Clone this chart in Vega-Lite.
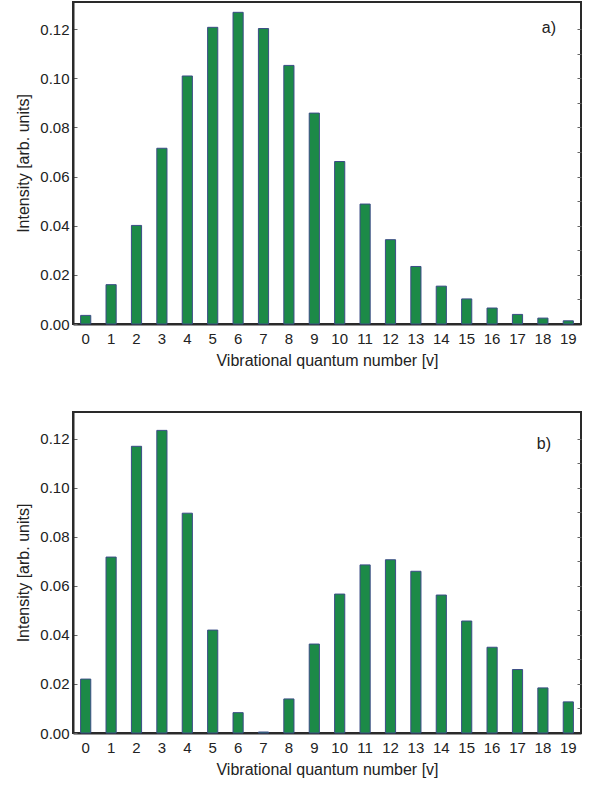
{
  "$schema": "https://vega.github.io/schema/vega-lite/v6.json",
  "padding": {"left": 14, "top": 1, "right": 2, "bottom": 0},
  "background": "white",
  "spacing": 42,
  "datasets": {
    "a": [
      {"v": "0", "intensity": 0.0035}, {"v": "1", "intensity": 0.0160}, {"v": "2", "intensity": 0.0401},
      {"v": "3", "intensity": 0.0715}, {"v": "4", "intensity": 0.1009}, {"v": "5", "intensity": 0.1207},
      {"v": "6", "intensity": 0.1268}, {"v": "7", "intensity": 0.1202}, {"v": "8", "intensity": 0.1052},
      {"v": "9", "intensity": 0.0858}, {"v": "10", "intensity": 0.0661}, {"v": "11", "intensity": 0.0488},
      {"v": "12", "intensity": 0.0343}, {"v": "13", "intensity": 0.0234}, {"v": "14", "intensity": 0.0154},
      {"v": "15", "intensity": 0.0102}, {"v": "16", "intensity": 0.0065}, {"v": "17", "intensity": 0.0039},
      {"v": "18", "intensity": 0.0024}, {"v": "19", "intensity": 0.0013}
    ],
    "b": [
      {"v": "0", "intensity": 0.0220}, {"v": "1", "intensity": 0.0718}, {"v": "2", "intensity": 0.1170},
      {"v": "3", "intensity": 0.1235}, {"v": "4", "intensity": 0.0897}, {"v": "5", "intensity": 0.0420},
      {"v": "6", "intensity": 0.0083}, {"v": "7", "intensity": 0.0004}, {"v": "8", "intensity": 0.0139},
      {"v": "9", "intensity": 0.0363}, {"v": "10", "intensity": 0.0567}, {"v": "11", "intensity": 0.0686},
      {"v": "12", "intensity": 0.0707}, {"v": "13", "intensity": 0.0660}, {"v": "14", "intensity": 0.0563},
      {"v": "15", "intensity": 0.0457}, {"v": "16", "intensity": 0.0350}, {"v": "17", "intensity": 0.0259},
      {"v": "18", "intensity": 0.0184}, {"v": "19", "intensity": 0.0127}
    ],
    "labA": [{"v": "18", "intensity": 0.1205, "label": "a)"}],
    "labB": [{"v": "18", "intensity": 0.118, "label": "b)"}]
  },
  "config": {
    "font": "Liberation Sans",
    "view": {"stroke": "#2a2a2a", "strokeWidth": 2},
    "axis": {
      "labelFont": "Liberation Sans",
      "titleFont": "Liberation Sans",
      "labelFontSize": 15,
      "titleFontSize": 16,
      "titleFontWeight": "normal",
      "labelColor": "#222",
      "titleColor": "#222",
      "domainColor": "#2a2a2a",
      "domainWidth": 2,
      "tickColor": "#666",
      "grid": false
    }
  },
  "vconcat": [
    {
      "width": 508,
      "height": 322,
      "resolve": {"axis": {"y": "independent"}},
      "layer": [
        {
          "data": {"name": "a"},
          "mark": {"type": "bar", "fill": "#1c8a47", "stroke": "#3b4c86", "strokeWidth": 1},
          "encoding": {
            "x": {"field": "v", "type": "ordinal", "sort": null,
                  "scale": {"paddingInner": 0.6, "paddingOuter": 0.3},
                  "axis": {"title": "Vibrational quantum number [v]", "labelAngle": 0, "ticks": false, "labelPadding": 7, "titlePadding": 6}},
            "y": {"field": "intensity", "type": "quantitative",
                  "scale": {"domain": [0, 0.131], "nice": false},
                  "axis": {"title": "Intensity [arb. units]", "values": [0, 0.02, 0.04, 0.06, 0.08, 0.1, 0.12], "format": ".2f", "tickSize": -4, "labelPadding": 8, "titlePadding": 8}}
          }
        },
        {
          "data": {"name": "labA"},
          "mark": {"type": "text", "fontSize": 16, "font": "Liberation Sans", "color": "#222", "dx": 6, "align": "center"},
          "encoding": {
            "x": {"field": "v", "type": "ordinal", "sort": null},
            "y": {"field": "intensity", "type": "quantitative",
                  "axis": {"orient": "right", "labels": false, "title": null, "domain": false, "tickSize": -4, "values": [0.01, 0.02, 0.03, 0.04, 0.05, 0.06, 0.07, 0.08, 0.09, 0.1, 0.11, 0.12]}},
            "text": {"field": "label"}
          }
        }
      ]
    },
    {
      "width": 508,
      "height": 321,
      "resolve": {"axis": {"y": "independent"}},
      "layer": [
        {
          "data": {"name": "b"},
          "mark": {"type": "bar", "fill": "#1c8a47", "stroke": "#3b4c86", "strokeWidth": 1},
          "encoding": {
            "x": {"field": "v", "type": "ordinal", "sort": null,
                  "scale": {"paddingInner": 0.6, "paddingOuter": 0.3},
                  "axis": {"title": "Vibrational quantum number [v]", "labelAngle": 0, "ticks": false, "labelPadding": 7, "titlePadding": 6}},
            "y": {"field": "intensity", "type": "quantitative",
                  "scale": {"domain": [0, 0.131], "nice": false},
                  "axis": {"title": "Intensity [arb. units]", "values": [0, 0.02, 0.04, 0.06, 0.08, 0.1, 0.12], "format": ".2f", "tickSize": -4, "labelPadding": 8, "titlePadding": 8}}
          }
        },
        {
          "data": {"name": "labB"},
          "mark": {"type": "text", "fontSize": 16, "font": "Liberation Sans", "color": "#222", "dx": 1, "align": "center"},
          "encoding": {
            "x": {"field": "v", "type": "ordinal", "sort": null},
            "y": {"field": "intensity", "type": "quantitative",
                  "axis": {"orient": "right", "labels": false, "title": null, "domain": false, "tickSize": -4, "values": [0.01, 0.02, 0.03, 0.04, 0.05, 0.06, 0.07, 0.08, 0.09, 0.1, 0.11, 0.12]}},
            "text": {"field": "label"}
          }
        }
      ]
    }
  ]
}
